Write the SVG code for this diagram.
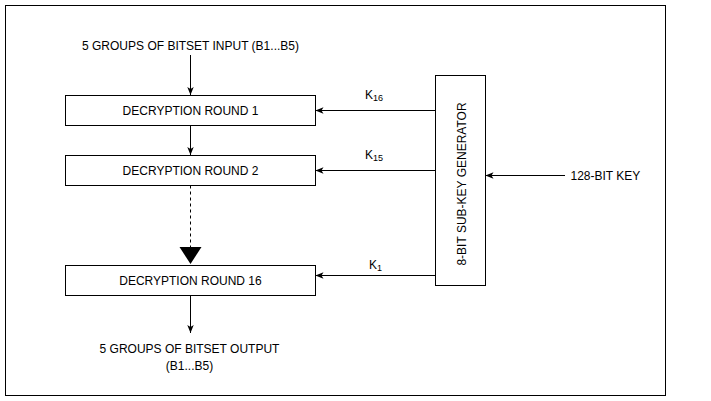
<svg xmlns="http://www.w3.org/2000/svg" width="711" height="401" viewBox="0 0 711 401">
  <defs>
    <marker id="arr" viewBox="0 0 10 10" refX="10" refY="5" markerWidth="8" markerHeight="8" orient="auto" markerUnits="userSpaceOnUse">
      <path d="M0,1 L10,5 L0,9 L2.5,5 z" fill="#000"/>
    </marker>
    <style>
      text { font-family: "Liberation Sans", Arial, Helvetica, sans-serif; font-size: 12px; fill: #000; }
      .box { fill: #fff; stroke: #000; stroke-width: 1; }
      .edge { fill: none; stroke: #000; stroke-width: 1; marker-end: url(#arr); }
      .sub { font-size: 9px; }
    </style>
  </defs>
  <rect x="0" y="0" width="711" height="401" fill="#fff"/>
  <rect id="frame" x="5.5" y="5.5" width="660" height="390" fill="none" stroke="#000" stroke-width="1"/>

  <g id="connectors">
    <line class="edge" x1="190.5" y1="55" x2="190.5" y2="95"/>
    <line class="edge" x1="190.5" y1="125.5" x2="190.5" y2="155"/>
    <line x1="190.5" y1="185.5" x2="190.5" y2="247" stroke="#000" stroke-width="1" stroke-dasharray="3 3"/>
    <polygon points="179.5,247 201.5,247 190.5,264" fill="#000"/>
    <line class="edge" x1="190.5" y1="295.5" x2="190.5" y2="333"/>
    <line class="edge" x1="435.5" y1="110.5" x2="315.5" y2="110.5"/>
    <line class="edge" x1="435.5" y1="170.5" x2="315.5" y2="170.5"/>
    <line class="edge" x1="435.5" y1="275.5" x2="315.5" y2="275.5"/>
    <line class="edge" x1="565" y1="175.5" x2="485.5" y2="175.5"/>
    <text x="365" y="99">K<tspan class="sub" dy="2">16</tspan></text>
    <text x="365" y="159">K<tspan class="sub" dy="2">15</tspan></text>
    <text x="369" y="269">K<tspan class="sub" dy="2">1</tspan></text>
  </g>

  <g id="input">
    <text x="190.5" y="50" text-anchor="middle">5 GROUPS OF BITSET INPUT (B1...B5)</text>
  </g>
  <g id="round1">
    <rect class="box" x="65.5" y="95.5" width="250" height="30"/>
    <text x="190.5" y="115" text-anchor="middle">DECRYPTION ROUND 1</text>
  </g>
  <g id="round2">
    <rect class="box" x="65.5" y="155.5" width="250" height="30"/>
    <text x="190.5" y="175" text-anchor="middle">DECRYPTION ROUND 2</text>
  </g>
  <g id="round16">
    <rect class="box" x="65.5" y="265.5" width="250" height="30"/>
    <text x="190.5" y="285" text-anchor="middle">DECRYPTION ROUND 16</text>
  </g>
  <g id="output">
    <text x="189.5" y="352.5" text-anchor="middle">5 GROUPS OF BITSET OUTPUT</text>
    <text x="189.5" y="369.5" text-anchor="middle">(B1...B5)</text>
  </g>
  <g id="generator">
    <rect class="box" x="435.5" y="75.5" width="50" height="210"/>
    <text transform="translate(465.5,184) rotate(-90)" x="0" y="0" text-anchor="middle">8-BIT SUB-KEY GENERATOR</text>
  </g>
  <g id="key">
    <text x="570.5" y="179.5">128-BIT KEY</text>
  </g>
</svg>
